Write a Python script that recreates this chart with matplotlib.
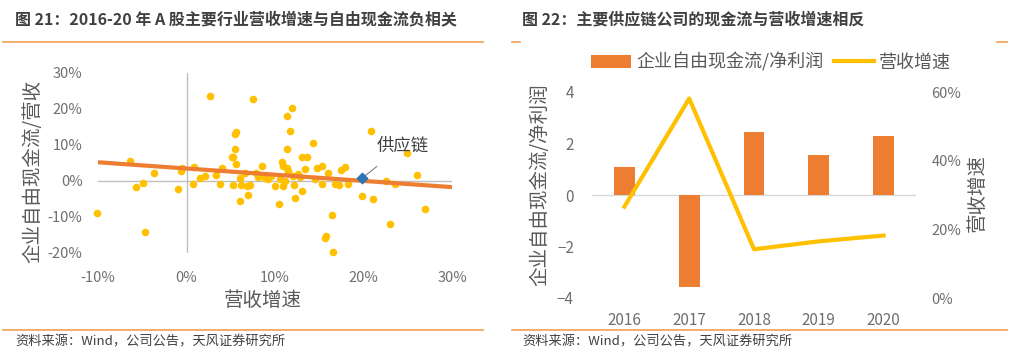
import matplotlib
matplotlib.use("Agg")
import matplotlib.pyplot as plt
from matplotlib.ticker import FuncFormatter

plt.rcParams['font.family'] = ['Noto Sans CJK SC', 'DejaVu Sans']

# left chart: industry revenue growth vs free cash flow / revenue (%)
growth = [-10.1, -6.4, -5.7, -4.9, -4.7, -3.7, -1.0, -0.6, -0.5, 0.75, 0.9, 1.5, 2.1, 2.6,
          3.3, 3.8, 4.0, 5.1, 5.3, 5.5, 5.6, 5.5, 5.6, 5.3, 6.0, 6.0, 6.2, 6.6, 6.8, 7.0,
          7.2, 7.5, 7.9, 8.1, 8.5, 8.9, 9.2, 9.6, 10.0, 10.4, 10.6, 10.8, 10.9, 10.9, 11.1,
          11.3, 11.4, 11.3, 11.5, 11.7, 11.9, 12.0, 12.2, 12.3, 12.6, 12.8, 13.0, 13.1, 13.4,
          13.6, 14.3, 14.5, 14.7, 15.3, 15.3, 15.7, 15.8, 16.0, 16.4, 16.5, 16.8, 17.2, 17.5,
          17.9, 18.3, 19.8, 20.8, 21.1, 22.5, 23.0, 23.6, 24.9, 26.0, 27.0]
fcf_rev = [-8.9, 5.6, -1.6, -0.5, -14.2, 2.3, -2.3, 2.8, 3.6, -0.9, 3.9, 0.9, 1.4, 23.6,
           1.7, -0.7, 3.7, 6.6, 6.7, 13.1, 13.6, 8.9, 4.7, -1.1, -5.6, 0.9, -1.1, 2.3, -1.4, -3.9,
           -1.1, 22.7, 2.3, 1.1, 4.2, 0.9, 0.5, 1.4, -1.4, -6.4, 0.5, 5.2, -1.4, 4.2, 0.0,
           8.9, 18.0, 3.7, 2.8, 13.9, 20.4, 1.4, -1.1, -4.7, 1.9, 1.1, 6.7, -2.8, 3.3,
           6.6, 10.5, 0.5, 3.7, 4.2, -0.9, -15.9, -15.2, 2.3, -9.4, -19.7, -0.7, -1.1, 3.0,
           3.9, -0.7, -4.2, 13.9, -4.9, 0.0, -12.0, -0.9, 7.7, 1.7, -7.7]
supply_point = (19.8, 0.7)
trend_x = [-10, 30]
trend_y = [5.2, -1.7]

# right chart: supply chain companies
years = ['2016', '2017', '2018', '2019', '2020']
fcf_profit = [1.08, -3.58, 2.45, 1.57, 2.31]
rev_growth = [26.6, 58.1, 14.2, 16.5, 18.2]

W, H = 1014, 354
fig = plt.figure(figsize=(W / 100, H / 100), dpi=100)

def fx(px):
    return px / W

def fy(py):
    return 1 - py / H

tick_c = '#6f6f6f'
lab_c = '#595959'
title_c = '#404040'
line_c = '#F0A050'

# titles, rules and sources
fig.text(fx(15), fy(19), '图 21：2016-20 年 A 股主要行业营收增速与自由现金流负相关',
         fontsize=11.5, fontweight='bold', color=title_c, va='center', ha='left')
fig.text(fx(522), fy(19), '图 22：主要供应链公司的现金流与营收增速相反',
         fontsize=11.5, fontweight='bold', color=title_c, va='center', ha='left')
for x0, x1, yy in [(3, 483, 42), (512, 520, 42), (997, 1007, 42), (3, 483, 330), (512, 1007, 330)]:
    fig.add_artist(plt.Line2D([fx(x0), fx(x1)], [fy(yy), fy(yy)], color=line_c, lw=1.2))
for x0 in (15, 522):
    fig.text(fx(x0), fy(342), '资料来源：Wind，公司公告，天风证券研究所',
             fontsize=9.5, color=title_c, va='center', ha='left')

# left scatter chart
ax = fig.add_axes([fx(98), fy(253), fx(452 - 98), (253 - 73) / H])
ax.set_xlim(-10, 30)
ax.set_ylim(-20, 30)
for s in ax.spines.values():
    s.set_visible(False)
ax.axhline(0, color='#bfbfbf', lw=1, zorder=1)
ax.axvline(0, color='#bfbfbf', lw=1, zorder=1)
ax.scatter(growth, fcf_rev, s=30, color='#FFC000', zorder=2, linewidths=0, clip_on=False)
ax.plot(trend_x, trend_y, color='#ED7D31', lw=3, zorder=3, solid_capstyle='butt')
ax.scatter([supply_point[0]], [supply_point[1]], marker='D', s=28, color='#2E75B6', zorder=4)
ax.annotate('供应链', xy=supply_point, xytext=(24.4, 9.7), fontsize=12.5, color=title_c,
            ha='center', va='center',
            arrowprops=dict(arrowstyle='-', color='#808080', lw=0.8,
                            shrinkA=10, shrinkB=2))
ax.set_xticks([-10, 0, 10, 20, 30])
ax.set_yticks([-20, -10, 0, 10, 20, 30])
pct = FuncFormatter(lambda v, p: f'{v:.0f}%')
ax.xaxis.set_major_formatter(pct)
ax.yaxis.set_major_formatter(pct)
ax.tick_params(axis='both', length=0, labelsize=10.5, colors=tick_c)
ax.tick_params(axis='x', pad=13)
ax.tick_params(axis='y', pad=11)
fig.text(fx(33), fy(171), '企业自由现金流/营收', rotation=90, fontsize=14, color=lab_c,
         ha='center', va='center')
fig.text(fx(263), fy(301), '营收增速', fontsize=14, color=lab_c, ha='center', va='center')

# right bar + line chart
ax1 = fig.add_axes([fx(592), fy(298), fx(916 - 592), (298 - 92) / H])
xs = list(range(len(years)))
bars = ax1.bar(xs, fcf_profit, width=0.32, color='#ED7D31', zorder=3,
               label='企业自由现金流/净利润')
ax1.set_xlim(-0.5, 4.5)
ax1.set_ylim(-4, 4)
ax1.set_yticks([-4, -2, 0, 2, 4])
ax1.set_xticks(xs)
ax1.set_xticklabels(years)
ax1.axhline(0, color='#d9d9d9', lw=1, zorder=1)
for s in ax1.spines.values():
    s.set_visible(False)
ax1.tick_params(axis='both', length=0, labelsize=11, colors=tick_c)
ax1.tick_params(axis='x', pad=10)
ax1.tick_params(axis='y', pad=13)

ax2 = ax1.twinx()
ln, = ax2.plot(xs, rev_growth, color='#FFC000', lw=3, zorder=4, label='营收增速')
ax2.set_ylim(0, 60)
ax2.set_yticks([0, 20, 40, 60])
ax2.yaxis.set_major_formatter(pct)
for s in ax2.spines.values():
    s.set_visible(False)
ax2.tick_params(axis='y', length=0, labelsize=10.5, colors=tick_c, pad=11)

fig.text(fx(540), fy(185), '企业自由现金流/净利润', rotation=90, fontsize=14, color=lab_c,
         ha='center', va='center')
fig.text(fx(977), fy(193), '营收增速', rotation=90, fontsize=14, color=lab_c,
         ha='center', va='center')

leg = fig.legend([bars, ln], ['企业自由现金流/净利润', '营收增速'], loc='center',
                 bbox_to_anchor=(fx(771), fy(62)), ncol=2, frameon=False, fontsize=13,
                 handlelength=2.2, handletextpad=0.3, columnspacing=0.6)
for t in leg.get_texts():
    t.set_color(lab_c)

fig.savefig('out.png', dpi=100, facecolor='white')
